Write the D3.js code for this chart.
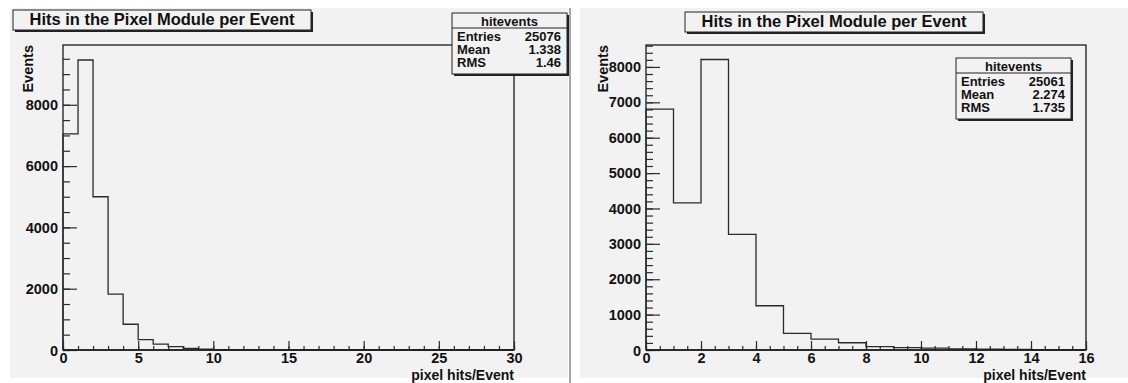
<!DOCTYPE html>
<html>
<head>
<meta charset="utf-8">
<script src="https://cdn.jsdelivr.net/npm/d3@7"></script>
<style>
  body { margin: 0; background: #fff; }
  svg text { font-family: "Liberation Sans", Arial, Helvetica, sans-serif; font-weight: bold; fill: #111; }
</style>
</head>
<body>
<div id="chart"></div>
<script>
// histogram contents, one entry per unit-wide bin starting at 0
const leftCounts = [7050, 9460, 5000, 1820, 840, 340, 190, 110, 55, 28, 14, 7, 4, 2, 1, 1,
    0, 0, 0, 0, 0, 0, 0, 0, 0, 0, 0, 0, 0, 0];
const rightCounts = [6810, 4160, 8210, 3270, 1250, 470, 310, 205, 95, 65, 55, 32, 25, 20, 12, 6];

const leftStats = [["Entries", "25076"], ["Mean", "1.338"], ["RMS", "1.46"]];
const rightStats = [["Entries", "25061"], ["Mean", "2.274"], ["RMS", "1.735"]];

const leftXTicks = [0, 5, 10, 15, 20, 25, 30];
const rightXTicks = [0, 2, 4, 6, 8, 10, 12, 14, 16];
const leftYTicks = [0, 2000, 4000, 6000, 8000];
const rightYTicks = [0, 1000, 2000, 3000, 4000, 5000, 6000, 7000, 8000];

const TITLE = "Hits in the Pixel Module per Event";
const STAT_NAME = "hitevents";
const X_LABEL = "pixel hits/Event";
const Y_LABEL = "Events";

const W = 1128, H = 383;

const svg = d3.select("#chart").append("svg")
    .attr("width", W)
    .attr("height", H);

// each pad: frame box, histogram, axes, title box, stats box
const pads = [
    {
        bg: [10, 8, 558, 370],
        frame: { left: 63, right: 514, top: 45, bottom: 350 },
        counts: leftCounts, xMax: 30, yMax: 9950,
        xTicks: leftXTicks, xMinorStep: 1,
        yTicks: leftYTicks, yMinorStep: 500,
        title: { x0: 13, x1: 311, y0: 10, y1: 30 },
        stat: { x0: 452, x1: 567, y0: 13, y1: 74 }, stats: leftStats,
        yLabelX: 33
    },
    {
        bg: [580, 8, 548, 370],
        frame: { left: 646, right: 1086, top: 45, bottom: 350 },
        counts: rightCounts, xMax: 16, yMax: 8620,
        xTicks: rightXTicks, xMinorStep: 0.5,
        yTicks: rightYTicks, yMinorStep: 200,
        title: { x0: 685, x1: 983, y0: 12, y1: 32 },
        stat: { x0: 956, x1: 1071, y0: 58, y1: 119 }, stats: rightStats,
        yLabelX: 608
    }
];

// divider between the two canvases
svg.append("rect")
    .attr("x", 569).attr("y", 8)
    .attr("width", 2).attr("height", 375)
    .attr("fill", "#a8a8a8");

function drawBox(g, b) {
    // shadow on right and bottom
    g.append("rect")
        .attr("x", b.x0 + 2).attr("y", b.y0 + 2)
        .attr("width", b.x1 - b.x0).attr("height", b.y1 - b.y0)
        .attr("fill", "#222");
    g.append("rect")
        .attr("x", b.x0).attr("y", b.y0)
        .attr("width", b.x1 - b.x0).attr("height", b.y1 - b.y0)
        .attr("fill", "#f2f2f2")
        .attr("stroke", "#222")
        .attr("stroke-width", 1);
}

function drawPad(p) {
    const g = svg.append("g");
    const f = p.frame;

    g.append("rect")
        .attr("x", p.bg[0]).attr("y", p.bg[1])
        .attr("width", p.bg[2]).attr("height", p.bg[3])
        .attr("fill", "#f2f2f2");

    const x = d3.scaleLinear().domain([0, p.xMax]).range([f.left, f.right]);
    const y = d3.scaleLinear().domain([0, p.yMax]).range([f.bottom, f.top]);

    // frame
    g.append("rect")
        .attr("x", f.left).attr("y", f.top)
        .attr("width", f.right - f.left).attr("height", f.bottom - f.top)
        .attr("fill", "none")
        .attr("stroke", "#1a1a1a")
        .attr("stroke-width", 1.3);

    // histogram outline
    const pts = [[0, 0]];
    p.counts.forEach((c, i) => {
        pts.push([i, c]);
        pts.push([i + 1, c]);
    });
    pts.push([p.counts.length, 0]);
    g.append("path")
        .attr("d", d3.line().x(d => x(d[0])).y(d => y(d[1]))(pts))
        .attr("fill", "none")
        .attr("stroke", "#2a2a2a")
        .attr("stroke-width", 1.3);

    // x axis: minor ticks, then major ticks with labels
    const xMinor = d3.range(0, p.xMax + 1e-9, p.xMinorStep);
    g.append("g")
        .attr("transform", "translate(0," + f.bottom + ")")
        .call(d3.axisBottom(x).tickValues(xMinor).tickSize(-4).tickFormat(""))
        .call(a => a.select(".domain").remove());
    const xAxis = g.append("g")
        .attr("transform", "translate(0," + f.bottom + ")")
        .call(d3.axisBottom(x).tickValues(p.xTicks).tickSize(-9).tickPadding(3).tickFormat(d3.format("d")));
    xAxis.select(".domain").remove();

    // y axis
    const yMinor = d3.range(0, p.yMax, p.yMinorStep);
    g.append("g")
        .attr("transform", "translate(" + f.left + ",0)")
        .call(d3.axisLeft(y).tickValues(yMinor).tickSize(-7).tickFormat(""))
        .call(a => a.select(".domain").remove());
    const yAxis = g.append("g")
        .attr("transform", "translate(" + f.left + ",0)")
        .call(d3.axisLeft(y).tickValues(p.yTicks).tickSize(-14).tickPadding(5).tickFormat(d3.format("d")));
    yAxis.select(".domain").remove();

    g.selectAll(".tick line").attr("stroke", "#2a2a2a").attr("stroke-width", 1.2);
    g.selectAll(".tick text")
        .attr("font-size", 14.5)
        .attr("font-family", null);
    // the y "0" sits a little low, like ROOT draws it
    yAxis.selectAll(".tick text").filter(d => d === 0).attr("dy", "0.4em");

    // redraw bottom axis line over ticks
    g.append("line")
        .attr("x1", f.left).attr("x2", f.right)
        .attr("y1", f.bottom).attr("y2", f.bottom)
        .attr("stroke", "#1a1a1a").attr("stroke-width", 1.6);

    // axis titles
    g.append("text")
        .attr("x", f.right).attr("y", 380)
        .attr("text-anchor", "end")
        .attr("font-size", 14)
        .text(X_LABEL);
    g.append("text")
        .attr("transform", "translate(" + p.yLabelX + "," + f.top + ") rotate(-90)")
        .attr("text-anchor", "end")
        .attr("font-size", 14.5)
        .text(Y_LABEL);

    // title box
    drawBox(g, p.title);
    g.append("text")
        .attr("x", (p.title.x0 + p.title.x1) / 2)
        .attr("y", p.title.y1 - 5)
        .attr("text-anchor", "middle")
        .attr("font-size", 16.5)
        .text(TITLE);

    // stats box
    const s = p.stat;
    drawBox(g, s);
    g.append("line")
        .attr("x1", s.x0).attr("x2", s.x1)
        .attr("y1", s.y0 + 15).attr("y2", s.y0 + 15)
        .attr("stroke", "#222");
    g.append("text")
        .attr("x", (s.x0 + s.x1) / 2)
        .attr("y", s.y0 + 13)
        .attr("text-anchor", "middle")
        .attr("font-size", 13)
        .text(STAT_NAME);
    p.stats.forEach((row, i) => {
        const by = s.y0 + 28 + i * 13;
        g.append("text")
            .attr("x", s.x0 + 5).attr("y", by)
            .attr("font-size", 13)
            .text(row[0]);
        g.append("text")
            .attr("x", s.x1 - 6).attr("y", by)
            .attr("text-anchor", "end")
            .attr("font-size", 13)
            .text(row[1]);
    });
}

pads.forEach(drawPad);
</script>
</body>
</html>
